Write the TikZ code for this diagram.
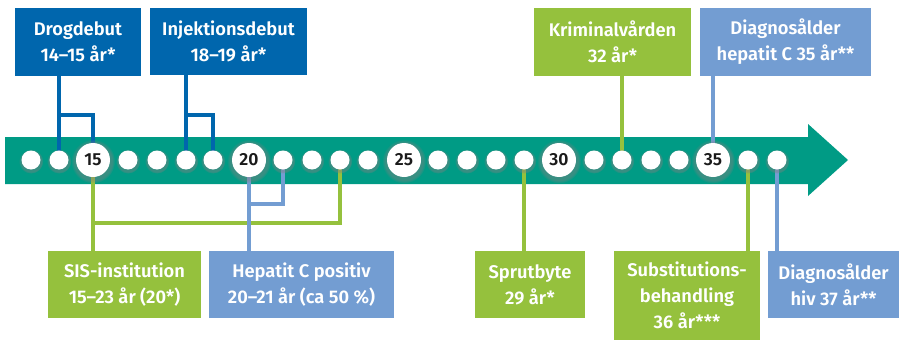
\documentclass[tikz,border=0pt]{standalone}
\usepackage{fontspec}
\setmainfont{Fira Sans}[BoldFont={Fira Sans SemiBold}]
\usetikzlibrary{shadows}
\definecolor{teal}{HTML}{009B85}
\definecolor{dblue}{HTML}{0066AD}
\definecolor{lblue}{HTML}{739DD2}
\definecolor{lgreen}{HTML}{95C13D}
\definecolor{numcol}{HTML}{1A1A1A}
\begin{document}
\begin{tikzpicture}[x=1pt,y=-1pt,
  lbl/.style={rectangle, inner sep=0pt, text=white, align=center,
    font=\bfseries\fontsize{18.3}{26}\selectfont},
  dbox/.style={lbl, fill=dblue},
  gbox/.style={lbl, fill=lgreen},
  bbox/.style={lbl, fill=lblue},
  dot/.style={circle, fill=white, inner sep=0pt, minimum size=19pt,
    circular drop shadow={shadow xshift=0pt, shadow yshift=-1pt, shadow scale=1.3, opacity=0.45}},
  bigdot/.style={dot, minimum size=34pt, text=numcol,
    font=\bfseries\fontsize{17.5}{17.5}\selectfont},
  conn/.style={line width=3.5pt},
]
\useasboundingbox (0,0) rectangle (899,340);
% band with arrowhead
\fill[teal] (5,137) -- (808,137) -- (808,124) -- (848,160) -- (808,196) -- (808,184) -- (5,184) -- cycle;

% boxes
\node[dbox, minimum width=126pt, minimum height=68pt] (drog) at (78,42) {Drogdebut\\14–15 år*};
\node[dbox, minimum width=157pt, minimum height=67pt] (inj) at (228.5,41.5) {Injektionsdebut\\18–19 år*};
\node[gbox, minimum width=157pt, minimum height=68pt] (krim) at (612.5,42) {Kriminalvården\\32 år*};
\node[bbox, minimum width=171pt, minimum height=68pt] (diaghc) at (785.5,42) {Diagnosålder\\hepatit C 35 år**};
\node[gbox, minimum width=153pt, minimum height=67pt] (sis) at (124.5,284.5) {SIS-institution\\15–23 år (20*)};
\node[bbox, minimum width=185pt, minimum height=67pt] (hcpos) at (301.5,284.5) {Hepatit C positiv\\20–21 år (ca 50 \%)};
\node[gbox, minimum width=110pt, minimum height=67pt] (sprut) at (530,284.5) {Sprutbyte\\29 år*};
\node[gbox, minimum width=146pt, minimum height=89pt] (subst) at (687,295.5) {Substitutions-\\behandling\\36 år***};
\node[bbox, minimum width=131pt, minimum height=67pt] (diaghiv) at (833.5,284.5) {Diagnosålder\\hiv 37 år**};

% dot positions
\coordinate (p13) at (31,160);
\coordinate (p14) at (59,160);
\coordinate (p15) at (93,160);
\coordinate (p16) at (128,160);
\coordinate (p17) at (157,160);
\coordinate (p18) at (186,160);
\coordinate (p19) at (213,160);
\coordinate (p20) at (249,160);
\coordinate (p21) at (283,160);
\coordinate (p22) at (312,160);
\coordinate (p23) at (340,160);
\coordinate (p24) at (368,160);
\coordinate (p25) at (404,160);
\coordinate (p26) at (438,160);
\coordinate (p27) at (467,160);
\coordinate (p28) at (496,160);
\coordinate (p29) at (524,160);
\coordinate (p30) at (559,160);
\coordinate (p31) at (594,160);
\coordinate (p32) at (622,160);
\coordinate (p33) at (651,160);
\coordinate (p34) at (679,160);
\coordinate (p35) at (713,160);
\coordinate (p36) at (748,160);
\coordinate (p37) at (777,160);

% junction levels
\coordinate (jtop) at (0,115);
\coordinate (jhc) at (0,204);
\coordinate (jsis) at (0,223);

% connectors (drawn before dots)
\draw[conn, dblue] (drog.south -| p14) -- (p14);
\draw[conn, dblue] (p14 |- jtop) -- (p15 |- jtop) -- (p15);
\draw[conn, dblue] (inj.south -| p18) -- (p18);
\draw[conn, dblue] (p18 |- jtop) -- (p19 |- jtop) -- (p19);
\draw[conn, lgreen] (krim.south -| p32) -- (p32);
\draw[conn, lblue] (diaghc.south -| p35) -- (p35);
\draw[conn, lgreen] (sis.north -| p15) -- (p15);
\draw[conn, lgreen] (p15 |- jsis) -- (p23 |- jsis) -- (p23);
\draw[conn, lblue] (hcpos.north -| p20) -- (p20);
\draw[conn, lblue] (p20 |- jhc) -- (p21 |- jhc) -- (p21);
\draw[conn, lgreen] (sprut.north -| p29) -- (p29);
\draw[conn, lgreen] (subst.north -| p36) -- (p36);
\draw[conn, lblue] (diaghiv.north -| p37) -- (p37);

% dots
\foreach \a in {13,14,16,17,18,19,21,22,23,24,26,27,28,29,31,32,33,34,36,37}
  \node[dot] (d\a) at (p\a) {};
\foreach \a in {15,20,25,30,35}
  \node[bigdot] (d\a) at (p\a) {\a};
\end{tikzpicture}
\end{document}
